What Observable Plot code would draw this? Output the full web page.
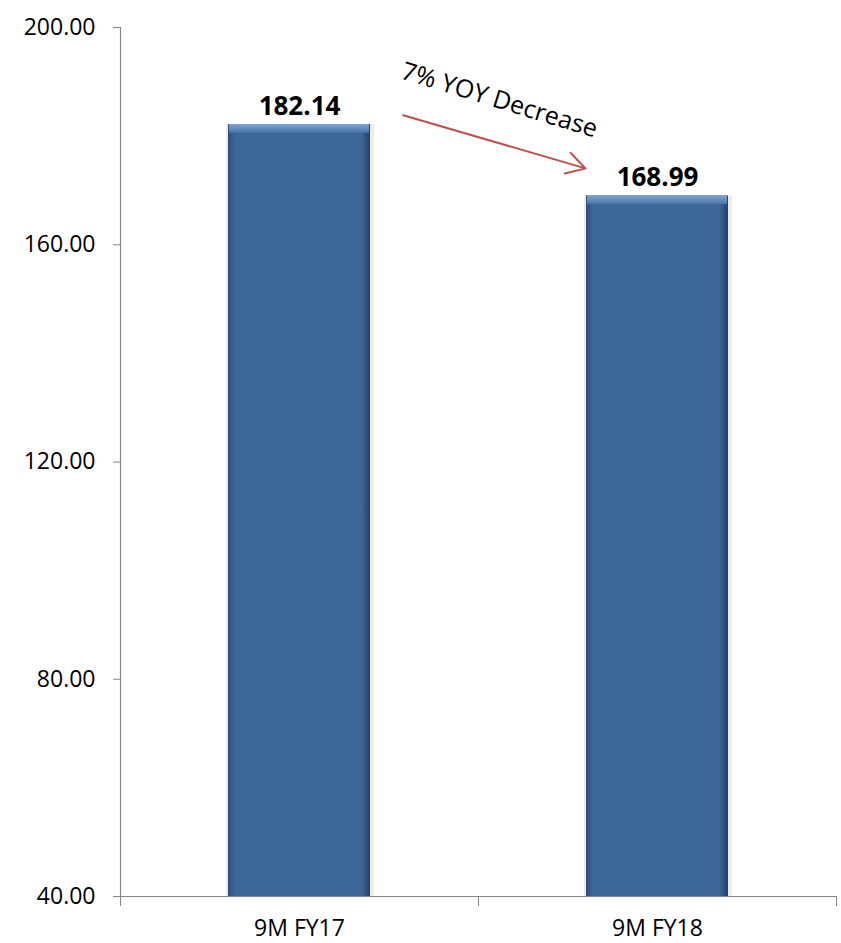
<!DOCTYPE html>
<html>
<head>
<meta charset="utf-8">
<script src="https://cdn.jsdelivr.net/npm/d3@7"></script>
<script src="https://cdn.jsdelivr.net/npm/@observablehq/plot@0.6"></script>
<style>
  html, body { margin: 0; padding: 0; background: #ffffff; }
  #chart { width: 841px; height: 943px; }
</style>
</head>
<body>
<div id="chart"></div>
<script>
// ---- data ----
const categories = ["9M FY17", "9M FY18"];
const values = [182.14, 168.99];
const yTicks = [40, 80, 120, 160, 200];
const annotationText = "7% YOY Decrease";
// annotation anchors (data units)
const arrowFromY = 189.4;
const arrowToY = 170.2;
const annotationY = 186.6;

const data = categories.map((c, i) => ({category: c, value: values[i]}));
const annot = [{from: categories[0], to: categories[1], text: annotationText}];

const bevel = 1.6; // top bevel depth in data units

const defs = () => {
  const g = d3.create("svg:defs");
  const h = g.append("linearGradient").attr("id", "barSide").attr("x1", 0).attr("x2", 1).attr("y1", 0).attr("y2", 0);
  h.append("stop").attr("offset", "0%").attr("stop-color", "#2c4e7b");
  h.append("stop").attr("offset", "5%").attr("stop-color", "#3d6799");
  h.append("stop").attr("offset", "94%").attr("stop-color", "#3d6799");
  h.append("stop").attr("offset", "100%").attr("stop-color", "#233f66");
  const t = g.append("linearGradient").attr("id", "barTop").attr("x1", 0).attr("x2", 0).attr("y1", 0).attr("y2", 1);
  t.append("stop").attr("offset", "0%").attr("stop-color", "#7fa4d2");
  t.append("stop").attr("offset", "100%").attr("stop-color", "#4a75a8");
  return g.node();
};

const chart = Plot.plot({
  width: 841,
  height: 943,
  marginLeft: 120,
  marginRight: 5,
  marginTop: 27,
  marginBottom: 47,
  style: {fontFamily: "'Open Sans', sans-serif", background: "#ffffff", color: "#000000"},
  x: {type: "band", domain: categories, paddingInner: 0.603, paddingOuter: 0.3015, label: null},
  y: {domain: [40, 200], label: null},
  marks: [
    defs,
    // soft shadow
    Plot.barY(data, {x: "category", y1: 40, y2: "value", fill: "#ececec", insetLeft: -2, insetRight: -4}),
    // bar body
    Plot.barY(data, {x: "category", y1: 40, y2: "value", fill: "url(#barSide)"}),
    // top bevel
    Plot.barY(data, {x: "category", y1: d => d.value - bevel, y2: "value", fill: "url(#barTop)", insetLeft: 1, insetRight: 1}),
    // axes
    Plot.frame({anchor: "left", stroke: "#868686", strokeWidth: 1.2}),
    Plot.ruleY([40], {stroke: "#868686", strokeWidth: 1.2}),
    Plot.axisY(yTicks, {tickSize: 7, tickPadding: 18, tickFormat: d3.format(".2f"), fontSize: 23, stroke: "#868686", fill: "#000000"}),
    Plot.axisX({tickSize: 0, tickPadding: 23, fontSize: 23, fill: "#000000"}),
    Plot.axisX({tickSize: 10, tickFormat: () => "", dx: -179, stroke: "#868686"}),
    Plot.axisX({tickSize: 10, tickFormat: () => "", dx: 179, stroke: "#868686"}),
    // value labels
    Plot.text(data, {x: "category", y: "value", text: d => d.value.toFixed(2), lineAnchor: "bottom", dy: -10, fontSize: 26, fontWeight: "bold", fill: "#000000"}),
    // annotation
    Plot.arrow(annot, {x1: "from", x2: "to", y1: arrowFromY, y2: arrowToY, insetStart: 108, insetEnd: 75, stroke: "#c0504d", strokeWidth: 2, headLength: 16}),
    Plot.text(annot, {x: "from", y: annotationY, dx: 200, text: "text", rotate: 17, fontSize: 25, fill: "#000000"})
  ]
});
document.getElementById("chart").appendChild(chart);
</script>
</body>
</html>
